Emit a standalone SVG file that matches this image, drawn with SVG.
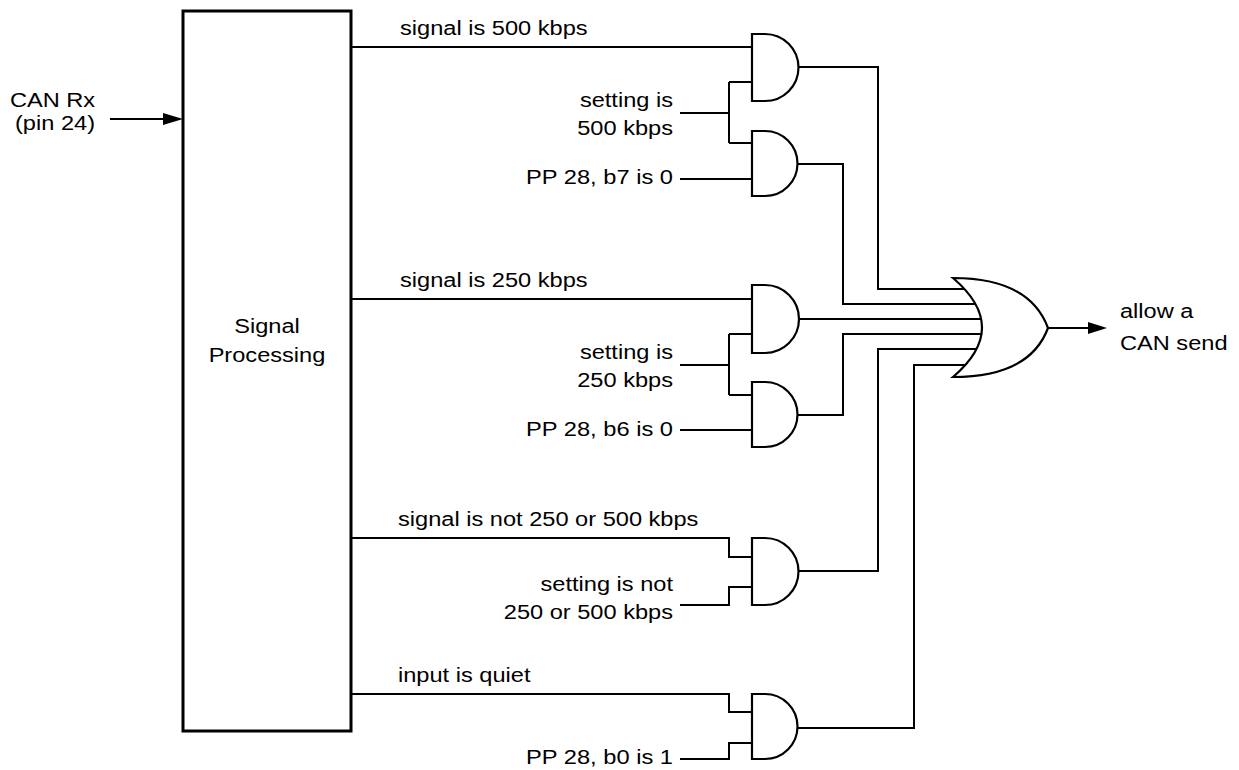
<svg xmlns="http://www.w3.org/2000/svg" width="1239" height="770" viewBox="0 0 1239 770">
<style>
text{font-family:"Liberation Sans",Arial,sans-serif;font-size:20px;fill:#000}
.e{text-anchor:end}
.m{text-anchor:middle}
.w{fill:none;stroke:#000;stroke-width:2}
.g{fill:#fff;stroke:#000;stroke-width:2.2}
</style>
<rect width="1239" height="770" fill="#fff"/>
<g id="connectors">
<path class="w" d="M110,119H170"/>
<polygon points="183,119 163,113 163,125"/>
<path class="w" d="M1048,328H1095"/>
<polygon points="1107,328 1088,322 1088,334"/>
<path class="w" d="M351,47H752M680,113H729M729,82V143M729,82H752M729,143H752M680,179H752"/>
<path class="w" d="M351,299H752M680,365H729M729,334V395M729,334H752M729,395H752M680,430H752"/>
<path class="w" d="M351,538H729V557H752M680,605H729V587H752"/>
<path class="w" d="M351,694H729V712H752M680,759H729V743H752"/>
<path class="w" d="M797,67H878V289H985M797,164H843V304H985M797,319H985M797,415H843V334H985M797,571H878V349H985M797,728H914V365H985"/>
</g>
<g id="signal-processing">
<rect x="183" y="11" width="168" height="720" fill="#fff" stroke="#000" stroke-width="3"/>
<text class="m" x="267" y="333" textLength="65.6" lengthAdjust="spacingAndGlyphs">Signal</text>
<text class="m" x="267" y="362" textLength="116.7" lengthAdjust="spacingAndGlyphs">Processing</text>
</g>
<g id="input-label">
<text class="m" x="52.5" y="107" textLength="85.2" lengthAdjust="spacingAndGlyphs">CAN Rx</text>
<text class="m" x="55" y="130" textLength="80" lengthAdjust="spacingAndGlyphs">(pin 24)</text>
</g>
<g id="and1"><path class="g" d="M752,34H765A33.5,33.5 0 0 1 765,101H752Z"/></g>
<g id="and2"><path class="g" d="M752,131H765A32.5,32.5 0 0 1 765,196H752Z"/></g>
<g id="and3"><path class="g" d="M752,285H765A34,34 0 0 1 765,353H752Z"/></g>
<g id="and4"><path class="g" d="M752,382H765A32.5,32.5 0 0 1 765,447H752Z"/></g>
<g id="and5"><path class="g" d="M752,538H765A33.5,33.5 0 0 1 765,605H752Z"/></g>
<g id="and6"><path class="g" d="M752,694H765A32.5,32.5 0 0 1 765,759H752Z"/></g>
<g id="or"><path class="g" d="M953,278C1000,278 1035,293 1048,328C1035,363 1000,377 953,377Q1011,327.5 953,278Z"/></g>
<g id="labels">
<text x="400" y="35" textLength="187.6" lengthAdjust="spacingAndGlyphs">signal is 500 kbps</text>
<text class="e" x="673" y="107" textLength="93.1" lengthAdjust="spacingAndGlyphs">setting is</text>
<text class="e" x="673" y="135" textLength="95.8" lengthAdjust="spacingAndGlyphs">500 kbps</text>
<text class="e" x="673" y="184" textLength="146.9" lengthAdjust="spacingAndGlyphs">PP 28, b7 is 0</text>
<text x="400" y="287" textLength="187.6" lengthAdjust="spacingAndGlyphs">signal is 250 kbps</text>
<text class="e" x="673" y="359" textLength="93.1" lengthAdjust="spacingAndGlyphs">setting is</text>
<text class="e" x="673" y="387" textLength="95.8" lengthAdjust="spacingAndGlyphs">250 kbps</text>
<text class="e" x="673" y="436" textLength="146.9" lengthAdjust="spacingAndGlyphs">PP 28, b6 is 0</text>
<text x="398" y="526" textLength="300.4" lengthAdjust="spacingAndGlyphs">signal is not 250 or 500 kbps</text>
<text class="e" x="673" y="591" textLength="132.5" lengthAdjust="spacingAndGlyphs">setting is not</text>
<text class="e" x="673" y="619" textLength="169.2" lengthAdjust="spacingAndGlyphs">250 or 500 kbps</text>
<text x="398" y="682" textLength="132.5" lengthAdjust="spacingAndGlyphs">input is quiet</text>
<text class="e" x="673" y="764" textLength="146.9" lengthAdjust="spacingAndGlyphs">PP 28, b0 is 1</text>
<text x="1120" y="318" textLength="73.4" lengthAdjust="spacingAndGlyphs">allow a</text>
<text x="1120" y="350" textLength="107.5" lengthAdjust="spacingAndGlyphs">CAN send</text>
</g>
</svg>
